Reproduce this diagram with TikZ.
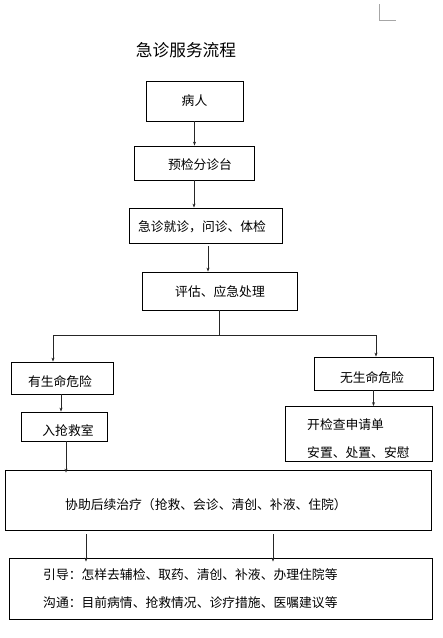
\documentclass[tikz,border=0pt]{standalone}
\usepackage{fontspec}
\setmainfont{Noto Sans CJK SC}
\usetikzlibrary{arrows.meta,calc}
\begin{document}
\begin{tikzpicture}[x=1pt,y=-1pt,
  box/.style={draw=black,line width=0.8pt,inner sep=0pt,font=\fontsize{12.8}{14}\selectfont},
  txt/.style={inner sep=0pt,font=\fontsize{12.8}{14}\selectfont},
  arr/.style={draw=black!85,line width=0.8pt,-{Stealth[length=4pt,width=3pt]}},
  ln/.style={draw=black!85,line width=0.8pt}]
\useasboundingbox (0,0) rectangle (443,638);
\draw[black!35,line width=0.7pt] (379,4) -- (379,20) -- (396,20);
\node[txt,font=\fontsize{16.7}{18}\selectfont] (title) at (186,50) {急诊服务流程};
% boxes
\node[box,minimum width=97,minimum height=40] (p) at (194.5,101) {病人};
\node[box,minimum width=120,minimum height=34] (t) at (194,163) {};
\node[txt] (tt) at (200,165) {预检分诊台};
\node[box,minimum width=153,minimum height=35] (j) at (205.5,225.5) {};
\node[txt] (jt) at (202,227) {急诊就诊，问诊、体检};
\node[box,minimum width=155,minimum height=38] (e) at (219.5,291) {};
\node[txt] (et) at (220,292) {评估、应急处理};
\node[box,minimum width=102,minimum height=32] (y) at (62,378) {};
\node[txt] (yt) at (60,382) {有生命危险};
\node[box,minimum width=119,minimum height=33] (n) at (373.5,373.5) {};
\node[txt] (nt) at (372,378) {无生命危险};
\node[box,minimum width=86,minimum height=29] (r) at (64,426.5) {};
\node[txt] (rt) at (68,431) {入抢救室};
\node[box,minimum width=147,minimum height=55] (k) at (358.5,434) {};
\node[txt,anchor=west] (k1) at (307,425) {开检查申请单};
\node[txt,anchor=west] (k2) at (307,453) {安置、处置、安慰};
\node[box,minimum width=426,minimum height=60] (h) at (218,500) {};
\node[txt] (ht) at (206,505) {协助后续治疗（抢救、会诊、清创、补液、住院）};
\node[box,minimum width=423,minimum height=61] (g) at (220.5,588.5) {};
\node[txt,anchor=west] (g1) at (43,575) {引导：怎样去辅检、取药、清创、补液、办理住院等};
\node[txt,anchor=west] (g2) at (43,603) {沟通：目前病情、抢救情况、诊疗措施、医嘱建议等};
% connectors
\draw[arr] (p.south) -- (p.south |- t.north);
\draw[arr] (t.south) -- (t.south |- j.north);
\path (j.south) ++(2.5,3) coordinate (j0);
\draw[arr] (j0) -- (j0 |- e.north);
\coordinate (sp) at (219,335);
\coordinate (sl) at (53,335);
\coordinate (sr) at (376,335);
\draw[ln] (e.south -| sp) -- (sp);
\draw[ln] (sl) -- (sr);
\draw[arr] (sl) -- (sl |- y.north);
\draw[arr] (sr) -- (sr |- n.north);
\path (y.south) ++(-1,0) coordinate (y0);
\draw[arr] (y0) -- (y0 |- r.north);
\path (r.south) ++(2,0) coordinate (r0);
\draw[arr] (r0) -- ([yshift=-3]r0 |- h.north);
\draw[arr] (n.south) -- (n.south |- k.north);
\path (h.south) ++(-132,4) coordinate (a1);
\path (h.south) ++(55,4) coordinate (a2);
\draw[arr] (a1) -- ([yshift=-4]a1 |- g.north);
\draw[arr] (a2) -- ([yshift=-4]a2 |- g.north);
\end{tikzpicture}
\end{document}
